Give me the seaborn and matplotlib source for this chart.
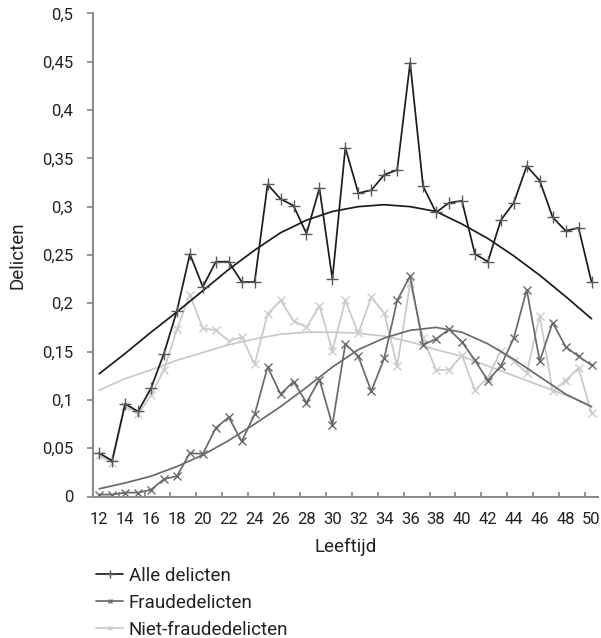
import numpy as np
import pandas as pd
import matplotlib
matplotlib.use("Agg")
import matplotlib.pyplot as plt
import seaborn as sns

# leeftijden 12 t/m 50
leeftijd = list(range(12, 51))

alle_delicten = [0.045, 0.037, 0.096, 0.088, 0.112, 0.148, 0.192, 0.251, 0.217, 0.243,
                 0.243, 0.222, 0.222, 0.323, 0.308, 0.301, 0.272, 0.319, 0.225, 0.361,
                 0.314, 0.317, 0.333, 0.338, 0.449, 0.321, 0.294, 0.304, 0.306, 0.251,
                 0.243, 0.286, 0.304, 0.342, 0.327, 0.289, 0.275, 0.278, 0.222]

fraudedelicten = [0.002, 0.002, 0.004, 0.004, 0.007, 0.018, 0.021, 0.045, 0.044, 0.071,
                  0.082, 0.057, 0.085, 0.134, 0.106, 0.119, 0.097, 0.121, 0.074, 0.158,
                  0.145, 0.109, 0.143, 0.203, 0.228, 0.157, 0.163, 0.173, 0.160, 0.141,
                  0.120, 0.135, 0.164, 0.214, 0.140, 0.180, 0.155, 0.145, 0.136]

niet_fraude = [0.043, 0.035, 0.094, 0.085, 0.105, 0.131, 0.173, 0.209, 0.174, 0.172,
               0.161, 0.165, 0.137, 0.189, 0.203, 0.182, 0.175, 0.197, 0.151, 0.203,
               0.169, 0.206, 0.190, 0.135, 0.221, 0.164, 0.131, 0.131, 0.146, 0.110,
               0.123, 0.151, 0.140, 0.128, 0.187, 0.109, 0.120, 0.133, 0.086]

trend_leeftijd = list(range(12, 51, 2))
alle_trend = [0.127, 0.148, 0.170, 0.191, 0.213, 0.235, 0.255, 0.273, 0.286, 0.295,
              0.300, 0.302, 0.300, 0.295, 0.282, 0.267, 0.249, 0.229, 0.207, 0.184]
fraude_trend = [0.008, 0.014, 0.021, 0.031, 0.043, 0.058, 0.075, 0.093, 0.113, 0.134,
                0.152, 0.164, 0.172, 0.175, 0.170, 0.158, 0.142, 0.124, 0.106, 0.093]
niet_trend = [0.110, 0.122, 0.131, 0.141, 0.149, 0.157, 0.163, 0.168, 0.170, 0.170,
              0.169, 0.166, 0.160, 0.152, 0.145, 0.135, 0.125, 0.115, 0.105, 0.093]

reeksen = ["Alle delicten", "Fraudedelicten", "Niet-fraudedelicten"]
y_ticks = [0, 0.05, 0.1, 0.15, 0.2, 0.25, 0.3, 0.35, 0.4, 0.45, 0.5]
x_labels = list(range(12, 51, 2))

df = pd.DataFrame({"Leeftijd": leeftijd,
                   "Alle delicten": alle_delicten,
                   "Fraudedelicten": fraudedelicten,
                   "Niet-fraudedelicten": niet_fraude})
df_trend = pd.DataFrame({"Leeftijd": trend_leeftijd,
                         "Alle delicten": alle_trend,
                         "Fraudedelicten": fraude_trend,
                         "Niet-fraudedelicten": niet_trend})

sns.set_style("white")
plt.rcParams['font.family'] = ['Roboto', 'DejaVu Sans']

kleuren = {"Alle delicten": "#1c1c1c", "Fraudedelicten": "#6a6a6a", "Niet-fraudedelicten": "#c9c9c9"}
marker_kleur = {"Alle delicten": "#5a5a5a", "Fraudedelicten": "#6a6a6a", "Niet-fraudedelicten": "#cdcdcd"}
markers = {"Alle delicten": "+", "Fraudedelicten": "x", "Niet-fraudedelicten": "x"}
msize = {"Alle delicten": 9, "Fraudedelicten": 6, "Niet-fraudedelicten": 6}

fig = plt.figure(figsize=(6.01, 6.38), dpi=100)
ax = fig.add_axes([92.7 / 601, 1 - 496.5 / 638, (598 - 92.7) / 601, (496.5 - 13.4) / 638])

# lichtste reeks eerst, zodat de donkere lijnen bovenop liggen
for naam in reversed(reeksen):
    sns.lineplot(data=df_trend, x="Leeftijd", y=naam, color=kleuren[naam], lw=1.25, ax=ax)
    sns.lineplot(data=df, x="Leeftijd", y=naam, color=kleuren[naam], lw=1.25,
                 marker=markers[naam], markersize=msize[naam], markeredgewidth=1.0,
                 markeredgecolor=marker_kleur[naam], label=naam, ax=ax)

ax.set_xlim(11.5, 50.5)
ax.set_ylim(0, 0.5)
ax.set_yticks(y_ticks)
ax.set_yticklabels([f"{v:g}".replace(".", ",") for v in y_ticks])
ax.set_xticks(x_labels)
ax.set_xticklabels([str(v) for v in x_labels])
ax.set_xticks(np.arange(11.5, 50, 2), minor=True)

grijs = "#8c8c8c"
for s in ["top", "right"]:
    ax.spines[s].set_visible(False)
for s in ["left", "bottom"]:
    ax.spines[s].set_color(grijs)
    ax.spines[s].set_linewidth(1.5)

ax.tick_params(axis="y", which="major", direction="out", length=4, width=1.3, color=grijs,
               left=True, labelsize=12, labelcolor="#222222", pad=10)
ax.tick_params(axis="x", which="major", length=0, labelsize=12, labelcolor="#222222", pad=11)
ax.tick_params(axis="x", which="minor", direction="in", length=3.5, width=1.3, color=grijs, bottom=True)

ax.set_xlabel("Leeftijd", fontsize=13.5, color="#222222", labelpad=8)
ax.set_ylabel("Delicten", fontsize=13.5, color="#222222", labelpad=11)

handles, labels = ax.get_legend_handles_labels()
volgorde = [labels.index(n) for n in reeksen]
leg = ax.legend([handles[i] for i in volgorde], [labels[i] for i in volgorde],
                loc="upper left", bbox_to_anchor=(96 / 601, 1 - 567 / 638),
                bbox_transform=fig.transFigure, frameon=False, fontsize=13.5,
                handlelength=1.45, handletextpad=0.3, labelspacing=0.48,
                borderpad=0, borderaxespad=0, markerscale=0.6)
for t in leg.get_texts():
    t.set_color("#222222")

fig.savefig("out.png", dpi=100)
